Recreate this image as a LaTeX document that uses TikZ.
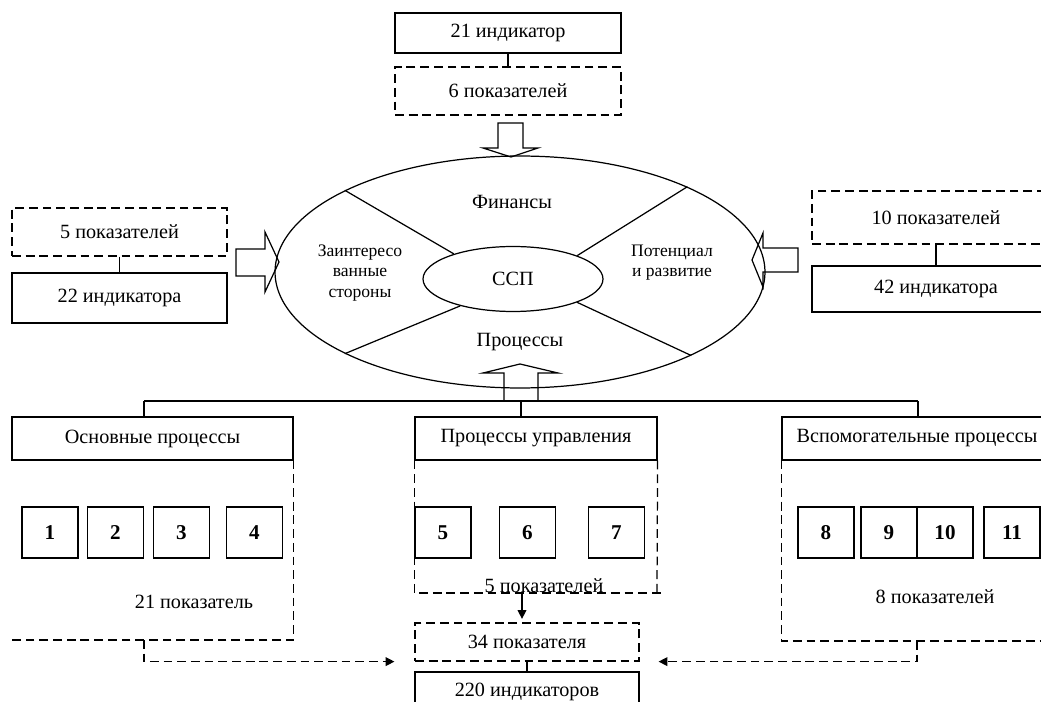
\documentclass[tikz,border=0pt]{standalone}
\usepackage{fontspec}
\setmainfont{Liberation Serif}
\usetikzlibrary{shapes.geometric, arrows.meta, positioning}

\begin{document}
\begin{tikzpicture}[x=0.02cm, y=-0.02cm, line width=0.7pt,
    font=\fontsize{11.5}{13}\selectfont,
    box/.style={draw, minimum height=0.8cm, inner sep=1pt},
    dline/.style={dash pattern=on 5pt off 2.8pt},
    dbox/.style={box, dline},
    num/.style={draw, minimum width=1.12cm, minimum height=1.02cm,
        font=\fontsize{12}{14}\selectfont\bfseries},
    arr/.style={-{Triangle[length=5pt,width=5pt]}},
    side/.style={align=center, font=\fontsize{10}{11.5}\selectfont}]
    \useasboundingbox (0,0) rectangle (1041,702);
    \clip (0,0) rectangle (1041,702);

    % upper block
    \node[box, minimum width=4.52cm] (ind21) at (508,33) {21 индикатор};
    \node[dbox, minimum width=4.52cm, minimum height=0.96cm] (pok6) at (508,91) {6 показателей};
    \draw (ind21) -- (pok6);
    \draw (498,123) -- (498,148) -- (483,148) -- (511,157) -- (538,148) -- (523,148) -- (523,123) -- cycle;

    % scorecard
    \node[ellipse, draw, minimum width=9.8cm, minimum height=4.64cm, inner sep=0] (bsc) at (520,272) {};
    \node[ellipse, draw, minimum width=3.6cm, minimum height=1.3cm, inner sep=0] (ssp) at (513,279) {ССП};
    \draw (ssp.157) -- (bsc.155);
    \draw (ssp.20) -- (bsc.27);
    \draw (ssp.207) -- (bsc.205);
    \draw (ssp.340) -- (bsc.334);
    \node (fin) at (512,202) {Финансы};
    \node (proc) at (520,342) {Процессы};
    \node[side] (stake) at (360,273) {Заинтересо\\ванные\\стороны};
    \node[side] (pot) at (672,263) {Потенциал\\и развитие};

    % left block
    \node[dbox, minimum width=4.3cm, minimum height=0.96cm] (pok5) at (119.5,232) {5 показателей};
    \node[box, minimum width=4.3cm, minimum height=1cm] (ind22) at (119.5,298) {22 индикатора};
    \draw (pok5) -- (ind22);
    \draw (236,249) -- (265,249) -- (265,232) -- (279,262) -- (265,292) -- (265,276) -- (236,276) -- cycle;

    % right block
    \node[dbox, minimum width=4.96cm, minimum height=1.06cm] (pok10) at (936,217.5) {10 показателей};
    \node[box, minimum width=4.96cm, minimum height=0.92cm] (ind42) at (936,289) {42 индикатора};
    \draw (pok10) -- (ind42);
    \draw (798,248) -- (763,248) -- (763,233) -- (752,260) -- (763,287) -- (763,272) -- (798,272) -- cycle;

    % processes
    \coordinate (busL) at (144,401);
    \coordinate (busR) at (918,401);
    \draw (busL) -- (busR);
    \draw (504,401) -- (504,373) -- (483,373) -- (520,364) -- (558,373) -- (538,373) -- (538,401);

    \node[box, minimum width=5.62cm, minimum height=0.86cm] (osn) at (152.5,438.5) {Основные процессы};
    \node[box, minimum width=4.84cm, minimum height=0.86cm] (upr) at (536,438.5) {Процессы управления};
    \node[box, minimum width=5.4cm, minimum height=0.86cm] (vsp) at (917,438.5) {Вспомогательные процессы};
    \draw (busL) -- (busL |- osn.north);
    \draw (521,401) -- (521,417);
    \draw (busR) -- (busR |- vsp.north);

    \draw[dline] (osn.south east) |- (12,640);
    \draw[dline] (upr.south west) |- (663,593);
    \draw[dline] (upr.south east) -- (657,593);
    \draw[dline] (vsp.south west) |- (1060,641);

    \foreach \n/\x in {1/50, 2/115.5, 3/181.5, 4/254.5, 5/443, 6/527.5, 7/616.5,
                       8/826, 9/889, 10/945, 11/1012}
        \node[num] (p\n) at (\x,532.5) {\n};

    \node (osnpok) at (194,602) {21 показатель};
    \node (uprpok) at (544,586) {5 показателей};
    \node (vsppok) at (935,597) {8 показателей};

    % totals
    \node[dbox, minimum width=4.48cm, minimum height=0.76cm] (pok34) at (527,642) {34 показателя};
    \node[box, minimum width=4.48cm] (ind220) at (527,692) {220 индикаторов};
    \draw (pok34) -- (ind220);

    \coordinate (osnB) at (144,640);
    \coordinate (uprB) at (522,593);
    \coordinate (vspB) at (917,641);
    \draw[arr, shorten >=2pt] (uprB) -- (uprB |- pok34.north);
    \draw[dline, arr, shorten >=0.4cm] (osnB) |- (pok34.south west);
    \draw[dline, arr, shorten >=0.38cm] (vspB) |- (pok34.south east);
\end{tikzpicture}
\end{document}
